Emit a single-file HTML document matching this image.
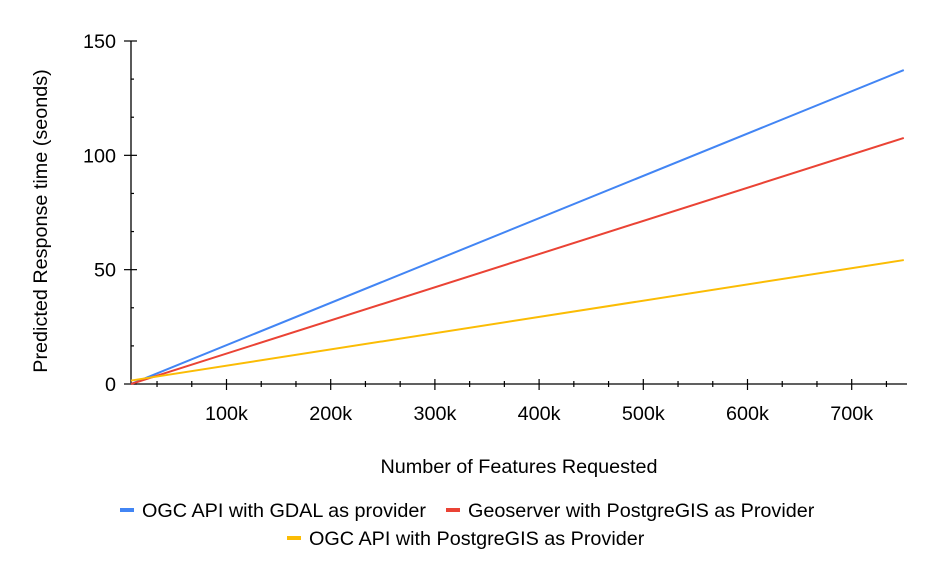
<!DOCTYPE html>
<html><head><meta charset="utf-8"><style>
body{margin:0;background:#fff;font-family:"Liberation Sans",sans-serif}
svg text{font-family:"Liberation Sans",sans-serif}
</style></head><body>
<svg width="936" height="579">
<g id="g"></g>
</svg>
<script>
const seriesNames=["OGC API with GDAL as provider","Geoserver with PostgreGIS as Provider","OGC API with PostgreGIS as Provider"];
const seriesColors=["#4285f4","#ea4335","#fbbc04"];
const xStart=[8300,8300,8300];
const xEnd=[750000,750000,750000];
const yStart=[0,0,1.5];
const yEnd=[137.3,107.6,54.2];
const xTicks=[100000,200000,300000,400000,500000,600000,700000];
const xTickLabels=["100k","200k","300k","400k","500k","600k","700k"];
const yTicks=[0,50,100,150];
const yTickLabels=["0","50","100","150"];
const NS="http://www.w3.org/2000/svg";
const g=document.getElementById('g');
const X0=122.3,XS=104.2/100000,Y0=384,YS=343/150;
const sx=v=>X0+v*XS, sy=v=>Y0-v*YS;
const FS=19.8;
function el(t,a,txt){const e=document.createElementNS(NS,t);for(const k in a)e.setAttribute(k,a[k]);if(txt!=null)e.textContent=txt;g.appendChild(e);return e;}
let e=el('line',{x1:131,y1:Y0,x2:907,y2:Y0,stroke:'#000','stroke-width':1.3});

e=el('line',{x1:131,y1:sy(150),x2:131,y2:Y0,stroke:'#000','stroke-width':1.3});

for(let v=100000/3;v<=750000;v+=100000/3){const x=sx(v);const major=Math.abs(v/100000-Math.round(v/100000))<0.01;
 e=el('line',{x1:x,y1:Y0-(major?5:3),x2:x,y2:Y0+(major?6:3),stroke:'#000','stroke-width':1.2});
 }
xTicks.forEach((v,i)=>{e=el('text',{x:sx(v),y:420,'font-size':FS,'text-anchor':'middle'},xTickLabels[i]);
 });
for(let v=0;v<=150.1;v+=50/3){const y=sy(v);const major=Math.abs(v/50-Math.round(v/50))<0.01;
 e=el('line',{x1:major?124:131,y1:y,x2:major?137:134,y2:y,stroke:'#000','stroke-width':1.2});
 }
yTicks.forEach((v,i)=>{e=el('text',{x:116,y:sy(v)+7,'font-size':FS,'text-anchor':'end'},yTickLabels[i]);
 });
seriesNames.forEach((n,i)=>{e=el('line',{x1:sx(xStart[i]),y1:sy(yStart[i]),x2:sx(xEnd[i]),y2:sy(yEnd[i]),stroke:seriesColors[i],'stroke-width':2});
 });
e=el('text',{x:519,y:473,'font-size':FS,'text-anchor':'middle'},'Number of Features Requested');

e=el('text',{x:47,y:221,'font-size':FS,'text-anchor':'middle',transform:'rotate(-90 47 221)'},'Predicted Response time (seonds)');

const leg=[[120,510],[446,510],[287,538]];
seriesNames.forEach((n,i)=>{const [lx,ly]=leg[i];
 e=el('rect',{x:lx,y:ly-2,width:14,height:4,fill:seriesColors[i]});
 
 e=el('text',{x:lx+22,y:ly+7,'font-size':FS},n);
 });
</script>
</body></html>
